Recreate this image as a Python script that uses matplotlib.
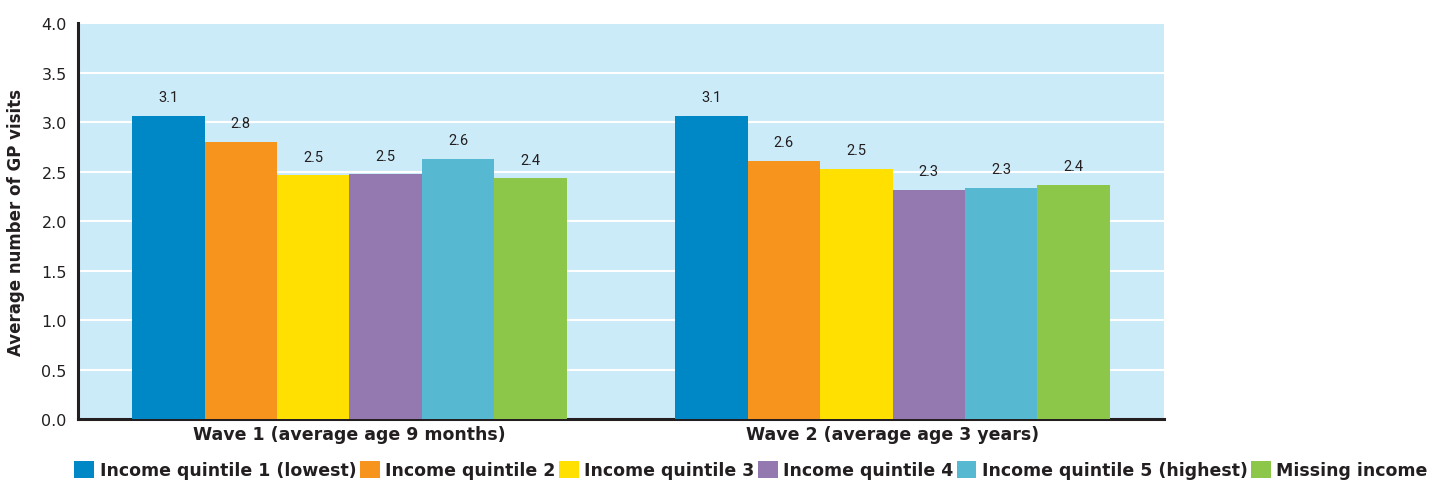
"""Average GP visits by income quintile, two survey waves."""
import matplotlib.pyplot as plt
from matplotlib.patches import Patch
import numpy as np

waves = ["Wave 1 (average age 9 months)", "Wave 2 (average age 3 years)"]
groups = [
    "Income quintile 1 (lowest)",
    "Income quintile 2",
    "Income quintile 3",
    "Income quintile 4",
    "Income quintile 5 (highest)",
    "Missing income",
]
# one list per wave, in the same order as groups
wave1_visits = [3.06, 2.80, 2.46, 2.47, 2.63, 2.43]
wave2_visits = [3.06, 2.61, 2.53, 2.31, 2.33, 2.36]
colours = ["#0087C6", "#F7941E", "#FFE000", "#9479B0", "#56B9D1", "#8DC74A"]
yticks = [0.0, 0.5, 1.0, 1.5, 2.0, 2.5, 3.0, 3.5, 4.0]

TEXT = "#231F20"


def main():
    fig = plt.figure(figsize=(14.33, 4.85), dpi=100)
    ax = fig.add_axes([0.0544, 0.134, 0.7579, 0.8165])
    ax.set_facecolor("#CCEBF9")

    data = np.array([wave1_visits, wave2_visits])
    x = np.arange(len(waves))
    width = 0.8 / len(groups)
    for i, (name, col) in enumerate(zip(groups, colours)):
        pos = x - 0.4 + width * (i + 0.5)
        bars = ax.bar(pos, data[:, i], width, color=col, zorder=3)
        for b, v in zip(bars, data[:, i]):
            ax.text(b.get_x() + b.get_width() / 2, v + 0.12, f"{v:.1f}",
                    ha="center", va="bottom", fontsize=10.5, color=TEXT,
                    family="Roboto", fontstretch="condensed")

    ax.set_xlim(-0.5, 1.5)
    ax.set_ylim(0, 4.0)
    ax.set_yticks(yticks)
    ax.set_yticklabels([f"{t:.1f}" for t in yticks], fontsize=11.5, color=TEXT)
    ax.yaxis.grid(True, color="white", linewidth=1.5, zorder=0)
    ax.set_axisbelow(True)
    ax.tick_params(axis="y", length=0, pad=8)
    ax.tick_params(axis="x", length=0, pad=4)
    ax.set_xticks(x)
    ax.set_xticklabels(waves, fontsize=12.5, fontweight="bold", color=TEXT)
    ax.set_ylabel("Average number of GP visits", fontsize=12,
                  fontweight="bold", color=TEXT, labelpad=12)

    for side in ("top", "right"):
        ax.spines[side].set_visible(False)
    for side in ("left", "bottom"):
        ax.spines[side].set_linewidth(2.2)
        ax.spines[side].set_color(TEXT)

    handles = [Patch(facecolor=c, edgecolor="none") for c in colours]
    fig.legend(handles, groups, loc="center", bbox_to_anchor=(751 / 1433, 1 - 471 / 485),
               ncol=6, frameon=False, handlelength=1.15, handleheight=1.15,
               handletextpad=0.3, columnspacing=0.2,
               prop={"weight": "bold", "size": 12.5})
    for t in fig.legends[0].get_texts():
        t.set_color(TEXT)

    fig.savefig("out.png", dpi=100)


if __name__ == "__main__":
    main()
